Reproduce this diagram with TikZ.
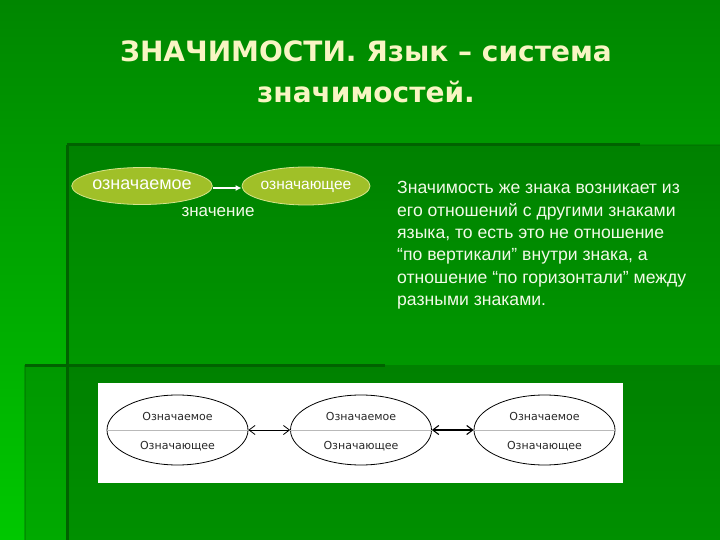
\documentclass[tikz,border=0pt]{standalone}
\usepackage{fontspec}
\setmainfont{Liberation Sans}
\newfontfamily\titlefont{DejaVu Sans}
\newfontfamily\smallfont{DejaVu Sans}
\usetikzlibrary{arrows.meta,shapes.geometric}
\definecolor{bgtop}{RGB}{0,134,0}
\definecolor{bgbot}{RGB}{0,200,0}
\definecolor{darkline}{RGB}{0,98,0}
\definecolor{titlecol}{RGB}{248,245,195}
\definecolor{olive}{RGB}{160,192,40}
\definecolor{oliveedge}{RGB}{215,228,140}
\definecolor{txtcol}{RGB}{242,250,232}
\definecolor{grey}{RGB}{40,40,40}
\tikzset{
  topell/.style={ellipse, fill=olive, draw=oliveedge, line width=0.8pt, inner sep=0pt, text=white, text height=1.6ex, text depth=0.2ex},
  botell/.style={ellipse, draw=black, line width=0.8pt, minimum width=141pt, minimum height=70pt, inner sep=0pt},
  smalltxt/.style={font=\smallfont\fontsize{11}{12}\selectfont, text=grey, inner sep=0pt},
  paraline/.style={anchor=base west, inner sep=0pt, text=txtcol, font=\fontsize{17.6}{20}\selectfont},
  titleline/.style={anchor=base, inner sep=0pt, text=titlecol, font=\titlefont\bfseries\fontsize{28}{32}\selectfont},
  dbl/.style={{Straight Barb[length=6pt,width=9pt]}-{Straight Barb[length=6pt,width=9pt]}, line width=0.8pt}
}
\begin{document}
\begin{tikzpicture}[x=1pt,y=-1pt]
\useasboundingbox (0,0) rectangle (720,540);
% background
\shade[top color=bgtop,bottom color=bgbot] (0,0) rectangle (720,540);
\fill[black,opacity=0.15] (25,365) rectangle (720,540);
\fill[black,opacity=0.15] (67,145) rectangle (720,540);
% decorative lines
\draw[darkline,line width=3pt] (67,145) -- (640,145);
\draw[darkline,opacity=0.3,line width=2pt] (640,145) -- (720,145);
\draw[darkline,line width=3pt] (67,145) -- (67,540);
\draw[darkline,line width=3pt] (25,365) -- (385,365);
\draw[darkline,opacity=0.35,line width=2pt] (25,365) -- (25,540);
% title
\node[titleline] (t1) at (366,62) {ЗНАЧИМОСТИ. Язык – система};
\node[titleline] (t2) at (366,103) {значимостей.};
% top-left diagram
\node[topell, minimum width=119pt, minimum height=37pt, font=\fontsize{18}{20}\selectfont] (sgd) at (142,186) {означаемое};
\node[topell, minimum width=120pt, minimum height=38pt, font=\fontsize{15.5}{18}\selectfont] (sgn) at (306,186) {означающее};
\draw[white,line width=1.3pt,-{Latex[length=6pt,width=6pt]}] ([yshift=-2pt]sgd.east) -- ([yshift=-2pt]sgn.west);
\node[anchor=base, inner sep=0pt, text=txtcol, font=\fontsize{17}{20}\selectfont] (zn) at (218,217) {значение};
% paragraph
\node[paraline] (p1) at (397,194) {Значимость же знака возникает из};
\node[paraline] (p2) at (397,216.3) {его отношений с другими знаками};
\node[paraline] (p3) at (397,238.6) {языка, то есть это не отношение};
\node[paraline] (p4) at (397,260.9) {“по вертикали” внутри знака, а};
\node[paraline] (p5) at (397,283.2) {отношение “по горизонтали” между};
\node[paraline] (p6) at (397,305.5) {разными знаками.};
% bottom box
\fill[white] (98,383) rectangle (623,483);
\foreach \n/\x in {e1/177.5,e2/361,e3/544.5}{
  \node[botell] (\n) at (\x,430) {};
  \draw[gray!55,line width=0.8pt] (\n.west) -- (\n.east);
  \node[smalltxt] (\n a) at (\x,416) {Означаемое};
  \node[smalltxt] (\n b) at (\x,446) {Означающее};
}
\draw[dbl] (e1.east) -- (e2.west);
\draw[dbl,line width=1.1pt] (e2.east) -- (e3.west);
\end{tikzpicture}
\end{document}
